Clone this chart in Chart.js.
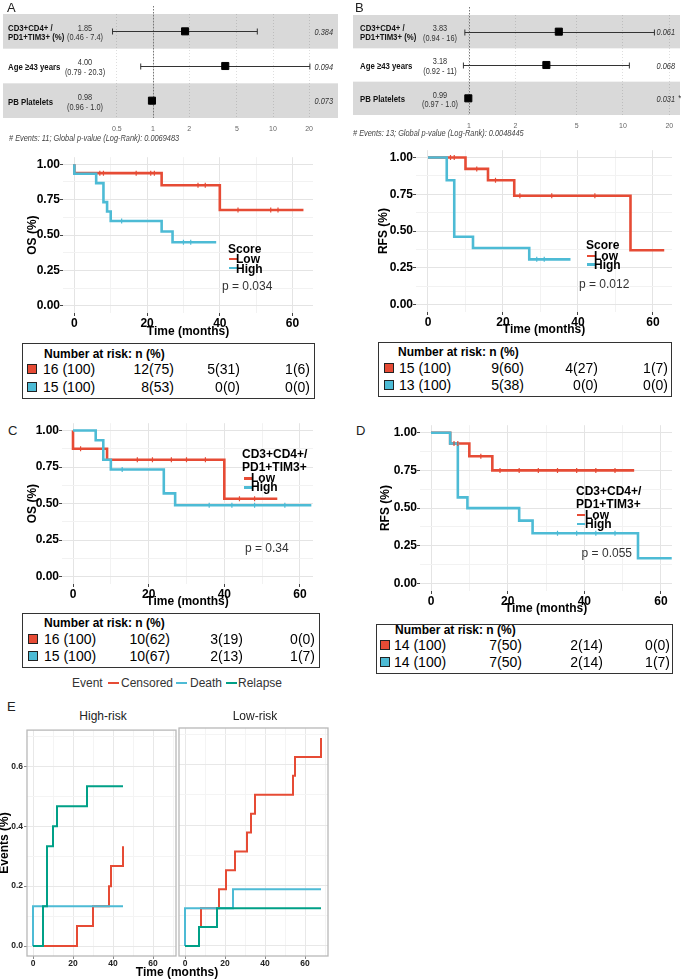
<!DOCTYPE html>
<html>
<head>
<meta charset="utf-8">
<script src="https://cdn.jsdelivr.net/npm/chart.js@4.4.1/dist/chart.umd.min.js"></script>
<style>
  body { margin: 0; background: #fff; width: 682px; height: 979px; position: relative; overflow: hidden;
         font-family: "Liberation Sans", Arial, sans-serif; color: #000; }
  canvas { position: absolute; }
  .t { position: absolute; white-space: nowrap; }
  .box { position: absolute; border: 1px solid #333; box-sizing: border-box; }
  .sq { position: absolute; width: 10px; height: 10px; border: 1px solid #222; box-sizing: border-box; }
  .dash { position: absolute; }
</style>
</head>
<body>
<script>
const RED = '#E64B35', BLUE = '#4DBBD5', GREEN = '#00A087';

// ---------- forest plots (A: OS, B: RFS) ----------
const forestRows = [['CD3+CD4+ /', 'PD1+TIM3+ (%)'], ['Age ≥43 years'], ['PB Platelets']];
const forestTicks = [0.5, 1, 2, 5, 10, 20];

const osHR = [1.85, 4.00, 0.98];
const osLo = [0.46, 0.79, 0.96];
const osHi = [7.4, 20.3, 1.0];
const osHRText = ['1.85', '4.00', '0.98'];
const osCIText = ['(0.46 - 7.4)', '(0.79 - 20.3)', '(0.96 - 1.0)'];
const osP = ['0.384', '0.094', '0.073'];
const osStar = ['', '', ''];

const rfsHR = [3.83, 3.18, 0.99];
const rfsLo = [0.94, 0.92, 0.97];
const rfsHi = [16, 11, 1.0];
const rfsHRText = ['3.83', '3.18', '0.99'];
const rfsCIText = ['(0.94 - 16)', '(0.92 - 11)', '(0.97 - 1.0)'];
const rfsP = ['0.061', '0.068', '0.031'];
const rfsStar = ['', '', '*'];

// ---------- Kaplan-Meier: Score ----------
const osLowT = [0, 0, 24, 40, 63];
const osLowS = [1, 0.9375, 0.852, 0.677, 0.677];
const osLowCensT = [7, 8, 17, 21, 22, 34, 36, 45, 54, 56];
const osLowCensS = [0.9375, 0.9375, 0.9375, 0.9375, 0.9375, 0.852, 0.852, 0.677, 0.677, 0.677];
const osHighT = [0, 0, 6, 8, 9, 10, 24, 27, 39];
const osHighS = [1, 0.933, 0.867, 0.733, 0.667, 0.6, 0.525, 0.45, 0.45];
const osHighCensT = [13, 30, 32];
const osHighCensS = [0.6, 0.45, 0.45];

const rfsLowT = [0, 10, 16, 23, 54, 63];
const rfsLowS = [1, 0.923, 0.846, 0.740, 0.370, 0.370];
const rfsLowCensT = [6, 7, 13, 18, 24.5, 33, 44.5];
const rfsLowCensS = [1, 1, 0.923, 0.846, 0.740, 0.740, 0.740];
const rfsHighT = [0, 5, 7, 12, 27, 38];
const rfsHighS = [1, 0.846, 0.462, 0.385, 0.308, 0.308];
const rfsHighCensT = [29, 31];
const rfsHighCensS = [0.308, 0.308];

// ---------- Kaplan-Meier: CD3+CD4+/PD1+TIM3+ ----------
const osCdLowT = [0, 0, 9, 40, 54];
const osCdLowS = [1, 0.875, 0.80, 0.533, 0.533];
const osCdLowCensT = [2, 17, 21, 26, 30, 35, 44, 48];
const osCdLowCensS = [0.875, 0.8, 0.8, 0.8, 0.8, 0.8, 0.533, 0.533];
const osCdHighT = [0, 6, 8, 10, 24, 27, 63];
const osCdHighS = [1, 0.933, 0.80, 0.733, 0.570, 0.489, 0.489];
const osCdHighCensT = [13, 36, 42, 48, 56];
const osCdHighCensS = [0.733, 0.489, 0.489, 0.489, 0.489];

const rfsCdLowT = [0, 5, 10, 16, 53];
const rfsCdLowS = [1, 0.929, 0.844, 0.750, 0.750];
const rfsCdLowCensT = [6, 7, 13, 18, 23, 28, 33, 38, 43, 48];
const rfsCdLowCensS = [0.929, 0.929, 0.844, 0.75, 0.75, 0.75, 0.75, 0.75, 0.75, 0.75];
const rfsCdHighT = [0, 5, 7, 9.5, 23, 26.5, 54, 62.8];
const rfsCdHighS = [1, 0.929, 0.571, 0.5, 0.417, 0.333, 0.167, 0.167];
const rfsCdHighCensT = [33, 38, 43, 48];
const rfsCdHighCensS = [0.333, 0.333, 0.333, 0.333];

// ---------- numbers at risk ----------
const riskA = [['16 (100)', '12(75)', '5(31)', '1(6)'], ['15 (100)', '8(53)', '0(0)', '0(0)']];
const riskB = [['15 (100)', '9(60)', '4(27)', '1(7)'], ['13 (100)', '5(38)', '0(0)', '0(0)']];
const riskC = [['16 (100)', '10(62)', '3(19)', '0(0)'], ['15 (100)', '10(67)', '2(13)', '1(7)']];
const riskD = [['14 (100)', '7(50)', '2(14)', '0(0)'], ['14 (100)', '7(50)', '2(14)', '1(7)']];

// ---------- E: cumulative events ----------
const hiCensT = [5, 22, 30, 38, 39, 45];
const hiCensY = [0, 0.067, 0.133, 0.2, 0.267, 0.333];
const hiDeathT = [0, 0, 45];
const hiDeathY = [0, 0.133, 0.133];
const hiRelT = [0, 5, 7, 10, 12, 27, 45];
const hiRelY = [0, 0.133, 0.333, 0.4, 0.467, 0.533, 0.533];

const loCensT = [7, 8, 17, 20.5, 25, 31, 33, 35, 54, 55, 68];
const loCensY = [0.0625, 0.125, 0.1875, 0.25, 0.3125, 0.375, 0.4375, 0.5, 0.5625, 0.625, 0.6875];
const loDeathT = [0, 0, 24, 68];
const loDeathY = [0, 0.125, 0.1875, 0.1875];
const loRelT = [0, 7, 16, 68];
const loRelY = [0, 0.0625, 0.125, 0.125];

// ================= helpers =================
Chart.defaults.font.family = '"Liberation Sans", Arial, sans-serif';
Chart.defaults.animation = false;
Chart.defaults.plugins.legend.display = false;
Chart.defaults.plugins.tooltip.enabled = false;
Chart.defaults.events = [];

function hasFont(name) {
  const c = document.createElement('canvas').getContext('2d');
  const s = 'PD1+TIM3+ (%) 0.0069483';
  c.font = '40px monospace';
  const a = c.measureText(s).width;
  c.font = '40px "' + name + '", monospace';
  return c.measureText(s).width !== a;
}
// condensed look for the forest plots: real narrow font if present, else squeezed sans
const NARROW = hasFont('Liberation Sans Narrow');
const NARROW_FAMILY = NARROW ? '"Liberation Sans Narrow"' : '"Liberation Sans"';
const SQUEEZE = NARROW ? 1 : 0.82;

function ntext(ctx, s, x, y, size, style, align) {
  ctx.save();
  ctx.font = (style || '') + ' ' + size + 'px ' + NARROW_FAMILY;
  ctx.textAlign = align;
  ctx.textBaseline = 'middle';
  ctx.translate(x, y);
  ctx.scale(SQUEEZE, 1);
  ctx.fillText(s, 0, 0);
  ctx.restore();
}

function mount(plot, pad) {
  const c = document.createElement('canvas');
  const w = Math.round(plot.r - plot.l + pad.l + pad.r);
  const h = Math.round(plot.b - plot.t + pad.t + pad.b);
  c.width = w; c.height = h;
  c.style.left = (plot.l - pad.l) + 'px';
  c.style.top = (plot.t - pad.t) + 'px';
  c.style.width = w + 'px';
  c.style.height = h + 'px';
  document.body.appendChild(c);
  return c;
}
const frame = pad => ({ autoPadding: false, padding: { left: 0, top: pad.t, right: pad.r, bottom: 0 } });
const pts = (t, v) => t.map((x, i) => ({ x: x, y: v[i] }));

function label(text, x, y, o = {}) {
  const d = document.createElement('div');
  const size = o.size || 12;
  d.className = 't';
  d.textContent = text;
  d.style.fontSize = size + 'px';
  d.style.lineHeight = size + 'px';
  d.style.left = x + 'px';
  d.style.top = (y - size / 2) + 'px';
  if (o.bold) d.style.fontWeight = 'bold';
  if (o.italic) d.style.fontStyle = 'italic';
  if (o.color) d.style.color = o.color;
  if (o.family) d.style.fontFamily = o.family;
  d.style.transformOrigin = 'left center';
  let tr = '';
  if (o.align === 'right') tr = 'translateX(-100%)';
  if (o.align === 'center') tr = 'translateX(-50%)';
  if (o.squeeze) tr += ' scaleX(' + o.squeeze + ')';
  if (tr) d.style.transform = tr;
  document.body.appendChild(d);
  return d;
}
function dash(x, y, w, color, h = 2.5) {
  const d = document.createElement('div');
  d.className = 'dash';
  Object.assign(d.style, { left: x + 'px', top: (y - h / 2) + 'px', width: w + 'px', height: h + 'px', background: color });
  document.body.appendChild(d);
}

// ---------- forest ----------
function forestPlugin(lo, hi, hrText, ciText, pText, stars, labX) {
  return {
    id: 'forest',
    beforeDraw(chart) {
      const { ctx, chartArea: a, scales: { y } } = chart;
      ctx.save();
      ctx.fillStyle = '#d9d9d9';
      forestRows.forEach((r, i) => {
        if (i % 2 === 0) {
          const y0 = y.getPixelForValue(i + 0.5), y1 = y.getPixelForValue(i + 1.5);
          ctx.fillRect(0, y0, a.right, y1 - y0);
        }
      });
      ctx.restore();
    },
    beforeDatasetsDraw(chart) {
      const { ctx, chartArea: a, scales: { x, y } } = chart;
      ctx.save();
      const x1 = Math.round(x.getPixelForValue(1)) + 0.5;
      ctx.strokeStyle = '#777';
      ctx.lineWidth = 1;
      ctx.setLineDash([1.5, 1.5]);
      ctx.beginPath(); ctx.moveTo(x1, a.top - 8); ctx.lineTo(x1, a.bottom); ctx.stroke();
      ctx.setLineDash([]);
      ctx.strokeStyle = '#333';
      lo.forEach((l, i) => {
        const yc = Math.round(y.getPixelForValue(i + 1)) + 0.5;
        const xl = x.getPixelForValue(l), xh = x.getPixelForValue(hi[i]);
        ctx.beginPath();
        ctx.moveTo(xl, yc); ctx.lineTo(xh, yc);
        ctx.moveTo(xl, yc - 3); ctx.lineTo(xl, yc + 3);
        ctx.moveTo(xh, yc - 3); ctx.lineTo(xh, yc + 3);
        ctx.stroke();
      });
      forestRows.forEach((r, i) => {
        const yc = y.getPixelForValue(i + 1);
        ctx.fillStyle = '#111';
        if (r.length === 1) ntext(ctx, r[0], labX, yc + 1.5, 9.5, 'bold', 'left');
        else { ntext(ctx, r[0], labX, yc - 3, 9.5, 'bold', 'left'); ntext(ctx, r[1], labX, yc + 6, 9.5, 'bold', 'left'); }
        ctx.fillStyle = '#333';
        ntext(ctx, hrText[i], a.left - 15, yc - 3, 9, '', 'center');
        ntext(ctx, ciText[i], a.left - 15, yc + 6.5, 9, '', 'center');
        ntext(ctx, pText[i], a.right - 5, yc + 1, 9, 'italic', 'right');
        if (stars[i]) ntext(ctx, stars[i], a.right - 2, yc, 9, 'italic', 'left');
      });
      ctx.restore();
    }
  };
}

function forest(plot, pad, xr, hr, lo, hi, hrText, ciText, pText, stars, labX) {
  const c = mount(plot, pad);
  new Chart(c, {
    type: 'scatter',
    data: { datasets: [{ data: hr.map((v, i) => ({ x: v, y: i + 1 })), pointStyle: 'rect', pointRadius: 5,
      pointBackgroundColor: '#000', pointBorderColor: '#000' }] },
    plugins: [forestPlugin(lo, hi, hrText, ciText, pText, stars, labX)],
    options: {
      responsive: false,
      layout: { autoPadding: false, padding: { left: pad.l, top: pad.t, right: pad.r, bottom: 0 } },
      scales: {
        x: {
          type: 'logarithmic', min: xr[0], max: xr[1],
          afterBuildTicks: s => { s.ticks = forestTicks.filter(v => v >= s.min && v <= s.max).map(v => ({ value: v })); },
          afterFit: s => { s.height = pad.b; },
          ticks: { callback: v => String(v), font: { size: 7 }, color: '#666', padding: 7, maxRotation: 0, autoSkip: false },
          grid: { color: 'rgba(0,0,0,0.13)', drawTicks: false },
          border: { display: false, dash: [1, 2] }
        },
        y: { type: 'linear', min: 0.5, max: 3.5, reverse: true, display: false }
      }
    }
  });
}

// ---------- Kaplan-Meier ----------
function kmCurve(t, s, color) {
  return { data: pts(t, s), borderColor: color, borderWidth: 2.6, stepped: 'before', pointRadius: 0, fill: false };
}
function kmCens(t, s, color) {
  return { data: pts(t, s), showLine: false, pointStyle: 'line', pointRotation: 90, pointRadius: 2.5,
    pointBorderWidth: 1.2, pointBorderColor: color, borderColor: color };
}
function km(plot, pad, xr, yTitle, sets) {
  const c = mount(plot, pad);
  const major20 = c2 => c2.tick && c2.tick.value % 20 === 0;
  const majorQ = c2 => c2.tick && c2.tick.value % 0.25 === 0;
  new Chart(c, {
    type: 'line',
    data: { datasets: sets },
    options: {
      responsive: false,
      layout: frame(pad),
      scales: {
        x: {
          type: 'linear', min: xr[0], max: xr[1],
          afterBuildTicks: s => { s.ticks = [0, 10, 20, 30, 40, 50, 60].map(v => ({ value: v })); },
          afterFit: s => { s.height = pad.b; },
          ticks: { callback: v => v % 20 === 0 ? String(v) : '', font: { size: 12, weight: 'bold' }, color: '#000', padding: 0, maxRotation: 0, autoSkip: false },
          grid: { color: c2 => major20(c2) ? '#e4e4e4' : '#f2f2f2', tickLength: 3, tickColor: c2 => major20(c2) ? '#444' : 'rgba(0,0,0,0)' },
          border: { display: false },
          title: { display: true, text: 'Time (months)', font: { size: 12, weight: 'bold' }, color: '#000', padding: 0 }
        },
        y: {
          type: 'linear', min: -0.05, max: 1.05,
          afterBuildTicks: s => { s.ticks = [0, 0.125, 0.25, 0.375, 0.5, 0.625, 0.75, 0.875, 1].map(v => ({ value: v })); },
          afterFit: s => { s.width = pad.l; },
          ticks: { callback: v => v % 0.25 === 0 ? v.toFixed(2) : '', font: { size: 12, weight: 'bold' }, color: '#000', padding: 0 },
          grid: { color: c2 => majorQ(c2) ? '#e4e4e4' : '#f2f2f2', tickLength: 3, tickColor: c2 => majorQ(c2) ? '#444' : 'rgba(0,0,0,0)' },
          border: { display: false },
          title: { display: true, text: yTitle, font: { size: 12, weight: 'bold' }, color: '#000', padding: { top: 0, bottom: 0 } }
        }
      }
    }
  });
}

// ---------- E panels ----------
const panelBorder = {
  id: 'panelBorder',
  afterDraw(chart) {
    const { ctx, chartArea: a } = chart;
    ctx.save();
    ctx.strokeStyle = '#b8b8b8';
    ctx.lineWidth = 1.3;
    ctx.strokeRect(a.left, a.top, a.right - a.left, a.bottom - a.top);
    ctx.restore();
  }
};
function cifCurve(t, v, color) {
  return { data: pts(t, v), borderColor: color, borderWidth: 2, stepped: 'before', pointRadius: 0, fill: false };
}
function cif(plot, pad, showY, sets) {
  const c = mount(plot, pad);
  new Chart(c, {
    type: 'line',
    data: { datasets: sets },
    plugins: [panelBorder],
    options: {
      responsive: false,
      layout: frame(pad),
      scales: {
        x: {
          type: 'linear', min: -3, max: 71.5,
          afterBuildTicks: s => { s.ticks = [0, 10, 20, 30, 40, 50, 60, 70].map(v => ({ value: v })); },
          afterFit: s => { s.height = pad.b; },
          ticks: { callback: (v, i) => i % 2 === 0 && v <= 60 ? String(v) : '', font: { size: 8.5, weight: 'bold' }, color: '#222', padding: 0, maxRotation: 0, autoSkip: false },
          grid: { color: c2 => c2.index % 2 === 0 ? '#e8e8e8' : '#f4f4f4', tickLength: 3, tickColor: c2 => c2.index % 2 === 0 && c2.index < 7 ? '#888' : 'rgba(0,0,0,0)' },
          border: { display: false }
        },
        y: {
          type: 'linear', min: -0.0331, max: 0.7207,
          afterBuildTicks: s => { s.ticks = [0, 0.1, 0.2, 0.3, 0.4, 0.5, 0.6, 0.7].map(v => ({ value: v })); },
          afterFit: s => { s.width = pad.l; },
          ticks: { display: showY, callback: (v, i) => i % 2 === 0 ? v.toFixed(1) : '', font: { size: 8.5, weight: 'bold' }, color: '#222', padding: 1 },
          grid: { color: c2 => c2.index % 2 === 0 ? '#e8e8e8' : '#f4f4f4', drawTicks: showY, tickLength: 3, tickColor: c2 => c2.index % 2 === 0 ? '#888' : 'rgba(0,0,0,0)' },
          border: { display: false },
          title: { display: showY, text: 'Events (%)', font: { size: 12, weight: 'bold' }, color: '#000', padding: { top: -2.5, bottom: 0 } }
        }
      }
    }
  });
}

function riskTable(box, head, sqX, rowY, col0, colR, rows) {
  const b = document.createElement('div');
  b.className = 'box';
  Object.assign(b.style, { left: box[0] + 'px', top: box[1] + 'px', width: box[2] + 'px', height: box[3] + 'px' });
  document.body.appendChild(b);
  label('Number at risk: n (%)', head[0], head[1], { bold: true, size: 12 });
  rows.forEach((r, k) => {
    const sq = document.createElement('div');
    sq.className = 'sq';
    Object.assign(sq.style, { left: sqX + 'px', top: (rowY[k] - 5) + 'px', background: k === 0 ? RED : BLUE });
    document.body.appendChild(sq);
    label(r[0], col0, rowY[k], { size: 14 });
    r.slice(1).forEach((v, j) => label(v, colR[j], rowY[k], { size: 14, align: 'right' }));
  });
}

// ================= build =================
// A / B forest plots
forest({ l: 100, t: 14, r: 338, b: 118 }, { l: 97, t: 10, r: 2, b: 26 }, [0.3616, 34.81],
  osHR, osLo, osHi, osHRText, osCIText, osP, osStar, 5);
forest({ l: 455, t: 15, r: 680, b: 115 }, { l: 102, t: 10, r: 2, b: 25 }, [0.8112, 23.45],
  rfsHR, rfsLo, rfsHi, rfsHRText, rfsCIText, rfsP, rfsStar, 7);
label('# Events: 11; Global p-value (Log-Rank): 0.0069483', 9, 138.5, { italic: true, size: 9, family: NARROW_FAMILY, color: '#444', squeeze: SQUEEZE });
label('# Events: 13; Global p-value (Log-Rank): 0.0048445', 353, 133.5, { italic: true, size: 9, family: NARROW_FAMILY, color: '#444', squeeze: SQUEEZE });

// KM panels
km({ l: 63, t: 156, r: 313, b: 313 }, { l: 38, t: 6, r: 7, b: 26 }, [-3.125, 65.625], 'OS (%)', [
  kmCens(osHighCensT, osHighCensS, BLUE), kmCens(osLowCensT, osLowCensS, RED),
  kmCurve(osHighT, osHighS, BLUE), kmCurve(osLowT, osLowS, RED)]);
km({ l: 416, t: 149, r: 672, b: 312 }, { l: 40, t: 6, r: 8, b: 25 }, [-3.2, 65.07], 'RFS (%)', [
  kmCens(rfsHighCensT, rfsHighCensS, BLUE), kmCens(rfsLowCensT, rfsLowCensS, RED),
  kmCurve(rfsHighT, rfsHighS, BLUE), kmCurve(rfsLowT, rfsLowS, RED)]);
km({ l: 62, t: 422, r: 313, b: 584 }, { l: 37, t: 6, r: 7, b: 25 }, [-2.91, 63.44], 'OS (%)', [
  kmCens(osCdHighCensT, osCdHighCensS, BLUE), kmCens(osCdLowCensT, osCdLowCensS, RED),
  kmCurve(osCdHighT, osCdHighS, BLUE), kmCurve(osCdLowT, osCdLowS, RED)]);
km({ l: 420, t: 424, r: 672, b: 591 }, { l: 42, t: 6, r: 8, b: 25 }, [-2.87, 62.87], 'RFS (%)', [
  kmCens(rfsCdHighCensT, rfsCdHighCensS, BLUE), kmCens(rfsCdLowCensT, rfsCdLowCensS, RED),
  kmCurve(rfsCdHighT, rfsCdHighS, BLUE), kmCurve(rfsCdLowT, rfsCdLowS, RED)]);

// KM legends and p-values
label('Score', 228, 249, { bold: true });
dash(229, 259, 8, RED); label('Low', 236, 259, { bold: true });
dash(229, 268, 8, BLUE); label('High', 236, 268.5, { bold: true });
label('p = 0.034', 222, 286, { color: '#333' });

label('Score', 586, 245, { bold: true });
dash(587, 256, 8, RED); label('Low', 594, 256, { bold: true });
dash(587, 264.5, 8, BLUE); label('High', 594, 264.5, { bold: true });
label('p = 0.012', 579, 283.5, { color: '#333' });

label('CD3+CD4+/', 242, 453.5, { bold: true });
label('PD1+TIM3+', 242, 467, { bold: true });
dash(244, 478.5, 8, RED); label('Low', 251, 477.5, { bold: true });
dash(244, 487.5, 8, BLUE); label('High', 251, 487, { bold: true });
label('p = 0.34', 245, 548, { color: '#333' });

label('CD3+CD4+/', 576, 491, { bold: true });
label('PD1+TIM3+', 576, 503.5, { bold: true });
dash(577, 515, 8, RED); label('Low', 585, 514.5, { bold: true });
dash(577, 524, 8, BLUE); label('High', 585, 524, { bold: true });
label('p = 0.055', 632, 553, { color: '#333', align: 'right' });

// risk tables
riskTable([22, 343, 293, 56], [44, 354], 27, [369, 386.5], 43, [174, 240, 310], riskA);
riskTable([378, 342, 294, 55], [398, 352], 384, [367.5, 384.5], 399, [524, 598, 668], riskB);
riskTable([22, 613, 298, 55], [44, 622.5], 28, [639, 655.5], 44, [170, 243, 315], riskC);
riskTable([376, 624, 297, 50], [395, 630], 380, [645, 662], 394, [522, 603, 670], riskD);

// event legend
label('Event', 72, 683, { color: '#333' });
dash(108, 683, 11, RED, 2); label('Censored', 121, 683, { color: '#333' });
dash(176, 683, 11, BLUE, 2); label('Death', 190, 683, { color: '#333' });
dash(226, 683, 11, GREEN, 2); label('Relapse', 238, 683, { color: '#333' });

// E: cumulative events per risk group
cif({ l: 27, t: 728, r: 176, b: 956 }, { l: 27, t: 4, r: 2, b: 12 }, true, [
  cifCurve(hiRelT, hiRelY, GREEN), cifCurve(hiDeathT, hiDeathY, BLUE), cifCurve(hiCensT, hiCensY, RED)]);
cif({ l: 179, t: 728, r: 328, b: 956 }, { l: 2, t: 4, r: 4, b: 12 }, false, [
  cifCurve(loRelT, loRelY, GREEN), cifCurve(loDeathT, loDeathY, BLUE), cifCurve(loCensT, loCensY, RED)]);
label('High-risk', 103, 716, { align: 'center', color: '#222' });
label('Low-risk', 255, 716, { align: 'center', color: '#222' });
label('Time (months)', 177, 972, { bold: true, align: 'center' });

// panel letters
label('A', 7, 7.5, { size: 13, color: '#222' });
label('B', 355, 7.5, { size: 13, color: '#222' });
label('C', 8, 430, { size: 13, color: '#222' });
label('D', 356, 430, { size: 13, color: '#222' });
label('E', 7, 706, { size: 13, color: '#222' });
</script>
</body>
</html>
